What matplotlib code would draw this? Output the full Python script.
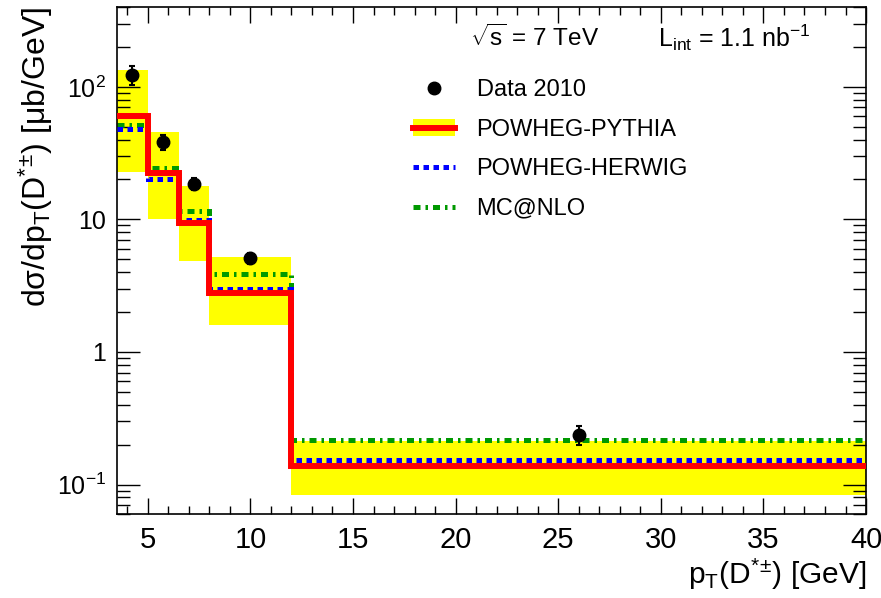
import numpy as np
import matplotlib
matplotlib.use("Agg")
import matplotlib.pyplot as plt
from matplotlib.lines import Line2D
from matplotlib.patches import Patch

plt.rcParams['font.family'] = ['Liberation Sans', 'DejaVu Sans']
plt.rcParams['mathtext.fontset'] = 'custom'
plt.rcParams['mathtext.rm'] = 'Liberation Sans'
plt.rcParams['mathtext.it'] = 'Liberation Sans:italic'
plt.rcParams['mathtext.bf'] = 'Liberation Sans:bold'

# pT bins [GeV]
edges = [3.5, 5.0, 6.5, 8.0, 12.0, 40.0]

# measured D*+- cross section, data 2010
data_x = [4.25, 5.75, 7.25, 10.0, 26.0]
data_y = [123.0, 38.5, 18.6, 5.1, 0.237]
data_err = [20.0, 5.0, 2.0, 0.5, 0.038]

# NLO predictions
pythia = [60.0, 22.5, 9.4, 2.8, 0.139]
pythia_lo = [22.8, 10.1, 4.85, 1.6, 0.084]
pythia_hi = [134.0, 45.7, 17.8, 5.2, 0.212]
herwig = [48.4, 20.0, 9.9, 3.0, 0.154]
mcatnlo = [51.9, 24.3, 11.6, 3.9, 0.216]

fig = plt.figure(figsize=(8.81, 5.98), dpi=100)
ax = fig.add_axes([0.1328, 0.1405, 0.8502, 0.8478])

ax.stairs(pythia_hi, edges, baseline=pythia_lo, fill=True, color='#ffff00', lw=0, zorder=1)
ax.stairs(mcatnlo, edges, baseline=None, color='#009900', lw=3.6,
          linestyle=(0, (1.4, 1.0, 0.5, 1.0)), zorder=2)
ax.stairs(herwig, edges, baseline=None, color='#0000ff', lw=3.6,
          linestyle=(0, (1.1, 0.9)), zorder=3)
ax.stairs(pythia, edges, baseline=None, color='#ff0000', lw=4.3, zorder=4)
ax.errorbar(data_x, data_y, yerr=data_err, fmt='o', color='black', ms=9,
            elinewidth=1.5, capsize=2.5, capthick=1.5, zorder=5)

ax.set_xlim(3.5, 40)
ax.set_yscale('log')
ax.set_ylim(0.06, 400)

ax.set_xticks([5, 10, 15, 20, 25, 30, 35, 40])
ax.set_xticks(np.arange(4, 41, 1), minor=True)
ax.set_yticks([0.1, 1, 10, 100])
ax.set_yticklabels(['$10^{-1}$', '1', '10', '$10^{2}$'])
ax.tick_params(axis='x', which='major', direction='in', length=11.5, width=1,
               top=True, labelsize=21, pad=9)
ax.tick_params(axis='x', which='minor', direction='in', length=5.8, width=1, top=True)
ax.tick_params(axis='y', which='major', direction='in', length=16.5, width=1,
               right=True, labelsize=18, pad=8)
ax.tick_params(axis='y', which='minor', direction='in', length=9.4, width=1, right=True)
ax.yaxis.set_minor_formatter(matplotlib.ticker.NullFormatter())
for s in ax.spines.values():
    s.set_linewidth(1.2)

ax.set_xlabel(r'p$_{\mathrm{T}}$(D$^{*}$$^{\pm}$) [GeV]', fontsize=21.5, loc='right', labelpad=2)
ax.set_ylabel(r'dσ/dp$_{\mathrm{T}}$(D$^{*}$$^{\pm}$) [μb/GeV]', fontsize=23,
              loc='top', labelpad=1)

ax.text(0.471, 0.94, r'$\sqrt{\mathrm{s}}$ = 7 TeV', transform=ax.transAxes,
        fontsize=17.5, va='center', ha='left')
ax.text(0.722, 0.94, r'L$_{\mathrm{int}}$ = 1.1 nb$^{-1}$', transform=ax.transAxes,
        fontsize=18, va='center', ha='left')

handles = [
    Line2D([], [], marker='o', color='black', ls='none', ms=9),
    (Patch(facecolor='#ffff00', lw=0), Line2D([], [], color='#ff0000', lw=4.3)),
    Line2D([], [], color='#0000ff', lw=3.6, linestyle=(0, (1.1, 0.9))),
    Line2D([], [], color='#009900', lw=3.6, linestyle=(0, (1.4, 1.0, 0.5, 1.0))),
]
labels = ['Data 2010', 'POWHEG-PYTHIA', 'POWHEG-HERWIG', 'MC@NLO']
ax.legend(handles, labels, loc='upper left', bbox_to_anchor=(0.395, 0.857),
          frameon=False, fontsize=17, handlelength=1.8, handletextpad=0.9,
          labelspacing=0.74, borderpad=0, borderaxespad=0)

fig.savefig('out.png', dpi=100)
